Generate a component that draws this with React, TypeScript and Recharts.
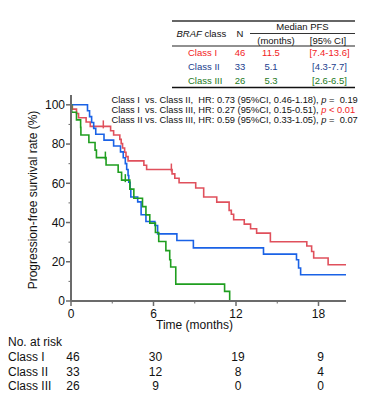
import React from 'react'
import { ComposedChart, Line, XAxis, YAxis } from 'recharts'

// Kaplan-Meier steps (months, % progression-free)
const class1Time = [0, 0.1, 0.4, 0.55, 1.1, 1.4, 2.88, 3.1, 3.55, 3.65, 3.75, 3.9, 4.0, 4.15, 5.3, 5.5, 7.35, 7.55, 7.86, 9.07, 9.65, 10.6, 11.5, 11.66, 11.83, 12.6, 13.06, 13.5, 14.5, 17.15, 17.5, 17.65, 18.7, 20]
const class1Surv = [100, 97.8, 95.6, 93.4, 91.2, 89, 86.8, 84.6, 82.4, 80.2, 78, 75.8, 73.6, 71.4, 69.2, 67, 64.8, 62.6, 60.3, 57.6, 53, 50.4, 46.2, 44.2, 41.4, 39.2, 36.8, 34.6, 30.2, 28, 25.2, 21.9, 18.5, 18.5]
const class1CensorTime = [2.35, 7.3]
const class1CensorSurv = [89, 67]

const class2Time = [0, 1.2, 1.35, 1.5, 1.65, 1.8, 2.4, 3.1, 3.6, 3.8, 3.95, 4.05, 4.15, 4.2, 4.3, 4.35, 4.85, 5.1, 5.45, 6.1, 6.3, 7.7, 8.9, 14.0, 16.4, 16.55, 16.7, 20]
const class2Surv = [100, 97, 94, 91, 88, 85, 82, 79, 76, 73, 70, 67, 64, 60.5, 57, 53, 50.5, 44, 40.5, 38.5, 34.2, 30.8, 27.1, 23.9, 21, 16.8, 13.4, 13.4]
const class2CensorTime: number[] = []
const class2CensorSurv: number[] = []

const class3Time = [0, 0.05, 0.4, 0.7, 0.72, 1.3, 1.75, 1.85, 2.55, 3.43, 3.68, 4.28, 4.57, 5.2, 5.45, 5.73, 6.14, 6.38, 6.9, 7.18, 7.25, 7.62, 11.17, 11.54]
const class3Surv = [100, 96.2, 92.3, 88.5, 84.6, 80.8, 76.9, 73.1, 69.3, 65.6, 61.6, 57, 52.4, 48.1, 43.9, 39.7, 34.9, 30.3, 25.7, 21, 17.3, 8.6, 4.9, 0]
const class3CensorTime = [2.5, 3.95]
const class3CensorSurv = [73.1, 61.6]

const xTicks = [0, 3, 6, 9, 12, 15, 18]
const xMajor = [0, 6, 12, 18]
const yTicks = [0, 10, 20, 30, 40, 50, 60, 70, 80, 90, 100]
const yMajor = [0, 20, 40, 60, 80, 100]

// numbers at risk
const riskI = [46, 30, 19, 9]
const riskII = [33, 12, 8, 4]
const riskIII = [26, 9, 0, 0]

// median PFS table
const tableClass = ['Class I', 'Class II', 'Class III']
const tableN = [46, 33, 26]
const tableMedian = ['11.5', '5.1', '5.3']
const tableCI = ['[7.4-13.6]', '[4.3-7.7]', '[2.6-6.5]']
const tableColor = ['#f21c24', '#22408e', '#1d7a1d']

const RED = '#e0505c'
const BLUE = '#1a62e6'
const GREEN = '#1f9e1f'
const AXIS = '#6b6b6b'
const FONT = '"Liberation Sans", Arial, sans-serif'

const build = (t: number[], s: number[], ct: number[], cs: number[]) =>
  [
    ...t.map((x, i) => ({ t: x, s: s[i] })),
    ...ct.map((x, i) => ({ t: x, s: cs[i], c: true })),
  ].sort((a, b) => a.t - b.t)

const data1 = build(class1Time, class1Surv, class1CensorTime, class1CensorSurv)
const data2 = build(class2Time, class2Surv, class2CensorTime, class2CensorSurv)
const data3 = build(class3Time, class3Surv, class3CensorTime, class3CensorSurv)

const censorDot = (color: string) => (p: any) =>
  p.payload?.c ? (
    <line key={`c${p.index}`} x1={p.cx} x2={p.cx} y1={p.cy - 6} y2={p.cy + 2} stroke={color} strokeWidth={1.5} />
  ) : (
    <g key={`n${p.index}`} />
  )

const XTick = (props: any) => {
  const { x, y, payload } = props
  const axisY = y - 8
  const v = payload.value
  const i = xMajor.indexOf(v)
  if (i < 0) return <line x1={x} x2={x} y1={axisY} y2={axisY + 2.5} stroke={AXIS} strokeWidth={1} />
  return (
    <g fontFamily={FONT} fontSize={12} fill="#111">
      <line x1={x} x2={x} y1={axisY} y2={axisY + 5} stroke={AXIS} strokeWidth={1.5} />
      <text x={x} y={y + 8.5} textAnchor="middle">{v}</text>
      <text x={x + 2} y={y + 52} textAnchor="middle">{riskI[i]}</text>
      <text x={x + 2} y={y + 67} textAnchor="middle">{riskII[i]}</text>
      <text x={x + 2} y={y + 81} textAnchor="middle">{riskIII[i]}</text>
    </g>
  )
}

const YTick = (props: any) => {
  const { x, y, payload } = props
  const axisX = x + 6
  const v = payload.value
  if (!yMajor.includes(v)) return <line x1={axisX - 2.5} x2={axisX} y1={y} y2={y} stroke={AXIS} strokeWidth={1} />
  return (
    <g>
      <line x1={axisX - 5} x2={axisX} y1={y} y2={y} stroke={AXIS} strokeWidth={1.5} />
      <text x={x} y={y + 4.3} textAnchor="end" fontFamily={FONT} fontSize={12} fill="#111">{v}</text>
    </g>
  )
}

const XLabel = (props: any) => {
  const vb = props.viewBox
  return (
    <text x={vb.x + vb.width / 2 - 14} y={vb.y + 28} textAnchor="middle" fontFamily={FONT} fontSize={12} fill="#111">
      Time (months)
    </text>
  )
}

const YLabel = (props: any) => {
  const vb = props.viewBox
  const cx = vb.x + 33
  const cy = vb.y + vb.height / 2 + 2
  return (
    <text x={cx} y={cy} transform={`rotate(-90, ${cx}, ${cy})`} textAnchor="middle" dominantBaseline="central" fontFamily={FONT} fontSize={12} fill="#111">
      Progression-free survival rate (%)
    </text>
  )
}

export default function App() {
  return (
    <div style={{ position: 'absolute', left: 0, top: 0, width: 372, height: 399, background: '#fff' }}>
      <ComposedChart width={372} height={399} margin={{ top: 95, right: 26, left: 0, bottom: 0 }}>
        <XAxis
          type="number" dataKey="t" domain={[0, 20]} ticks={xTicks} interval={0} allowDataOverflow
          height={98} tickSize={5} tickMargin={3} tickLine={false}
          axisLine={{ stroke: AXIS, strokeWidth: 2 }} tick={<XTick />} label={<XLabel />}
        />
        <YAxis
          type="number" dataKey="s" domain={[0, 105]} ticks={yTicks} interval={0} allowDataOverflow
          width={71} tickSize={5} tickMargin={1} tickLine={false}
          axisLine={{ stroke: AXIS, strokeWidth: 2 }} tick={<YTick />} label={<YLabel />}
        />
        <Line data={data1} dataKey="s" type="stepAfter" stroke={RED} strokeWidth={1.6} dot={censorDot(RED)} activeDot={false} isAnimationActive={false} />
        <Line data={data2} dataKey="s" type="stepAfter" stroke={BLUE} strokeWidth={1.6} dot={censorDot(BLUE)} activeDot={false} isAnimationActive={false} />
        <Line data={data3} dataKey="s" type="stepAfter" stroke={GREEN} strokeWidth={1.6} dot={censorDot(GREEN)} activeDot={false} isAnimationActive={false} />
      </ComposedChart>

      {/* table, HR notes, at-risk labels */}
      <svg width={372} height={399} style={{ position: 'absolute', left: 0, top: 0, pointerEvents: 'none' }} fontFamily={FONT}>
        <g fontSize={9.5} fill="#111">
          <line x1={172} x2={355} y1={21} y2={21} stroke="#666" strokeWidth={2} />
          <text x={302.5} y={29.5} textAnchor="middle">Median  PFS</text>
          <line x1={250} x2={355} y1={33.5} y2={33.5} stroke="#333" strokeWidth={1} />
          <text x={176.5} y={36.8}><tspan fontStyle="italic">BRAF</tspan> class</text>
          <text x={240} y={36.8} textAnchor="middle">N</text>
          <text x={276} y={43.5} textAnchor="middle">(months)</text>
          <text x={328} y={43.5} textAnchor="middle">[95% CI]</text>
          <line x1={172} x2={355} y1={46} y2={46} stroke="#222" strokeWidth={1.2} />
          {tableClass.map((c, i) => (
            <g key={c} fill={tableColor[i]}>
              <text x={188} y={56 + i * 14}>{c}</text>
              <text x={240} y={56 + i * 14} textAnchor="middle">{tableN[i]}</text>
              <text x={271} y={56 + i * 14} textAnchor="middle">{tableMedian[i]}</text>
              <text x={329.5} y={56 + i * 14} textAnchor="middle">{tableCI[i]}</text>
            </g>
          ))}
          <line x1={172} x2={355} y1={87.5} y2={87.5} stroke="#111" strokeWidth={1.5} />
        </g>
        <g fontSize={9.3} fill="#111" style={{ whiteSpace: 'pre' }}>
          <text x={111.5} y={103.4} xmlSpace="preserve">Class I  vs. Class II,  HR: 0.73 (95%CI, 0.46-1.18), <tspan fontStyle="italic">p</tspan> =  0.19</text>
          <text x={111.5} y={113.4} xmlSpace="preserve">Class I  vs. Class III, HR: 0.27 (95%CI, 0.15-0.51), <tspan fill="#f21c24"><tspan fontStyle="italic">p</tspan> &lt; 0.01</tspan></text>
          <text x={111.5} y={123.4} xmlSpace="preserve">Class II vs. Class III, HR: 0.59 (95%CI, 0.33-1.05), <tspan fontStyle="italic">p</tspan> =  0.07</text>
        </g>
        <g fontSize={12} fill="#111">
          <text x={8} y={346}>No. at risk</text>
          <text x={8} y={361}>Class I</text>
          <text x={8} y={376}>Class II</text>
          <text x={8} y={390.3}>Class III</text>
        </g>
      </svg>
    </div>
  )
}
